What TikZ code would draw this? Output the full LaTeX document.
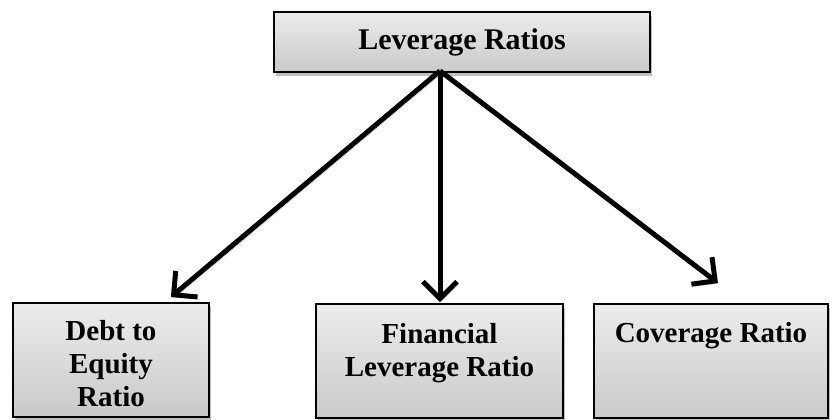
\documentclass[tikz,border=0pt]{standalone}
\usepackage{fontspec}
\setmainfont{Liberation Serif}
\usetikzlibrary{arrows.meta,shadows}
\tikzset{
ratiobox/.style={
  rectangle, draw=black, line width=1.8pt,
  top color=gray!15, bottom color=gray!42,
  drop shadow={shadow xshift=1.5pt,shadow yshift=-4pt,opacity=0.5},
  inner sep=0pt
},
boxtext/.style={
  anchor=north, inner sep=0pt, align=center,
  font=\bfseries\fontsize{29}{33}\selectfont
},
splitarrow/.style={
  line width=5pt, -{Straight Barb[length=17pt,width=34pt]},
  preaction={draw=gray!45, transform canvas={shift={(2pt,-2.5pt)}}}
},
}

\begin{document}
\begin{tikzpicture}[x=1pt,y=1pt]
\useasboundingbox (0,0) rectangle (830,420);
% the boxes
\node[ratiobox, minimum width=376pt, minimum height=60pt,
  font=\bfseries\fontsize{30}{33}\selectfont] (lev) at (462,378) {Leverage Ratios};
\node[ratiobox, minimum width=196pt, minimum height=114pt] (debt) at (111,60) {};
\node[ratiobox, minimum width=247pt, minimum height=114pt] (fin) at (439.5,59) {};
\node[ratiobox, minimum width=234pt, minimum height=114pt] (cov) at (711,59) {};
% the texts
\node[boxtext] (debttext) at ([yshift=-18.5pt]debt.north) {Debt to\\Equity\\Ratio};
\node[boxtext] (fintext) at ([yshift=-20.5pt]fin.north) {Financial\\Leverage Ratio};
\node[boxtext] (covtext) at ([yshift=-19.5pt]cov.north) {Coverage Ratio};
% the arrows
\coordinate (hub) at ([xshift=-22pt,yshift=2pt]lev.south);
\draw[splitarrow] (hub) -- ([xshift=-39pt,yshift=5pt]debt.north east);
\draw[splitarrow] (hub) -- ([xshift=0.5pt,yshift=1pt]fin.north);
\draw[splitarrow] (hub) -- ([xshift=7pt,yshift=20pt]cov.north);
\end{tikzpicture}
\end{document}
